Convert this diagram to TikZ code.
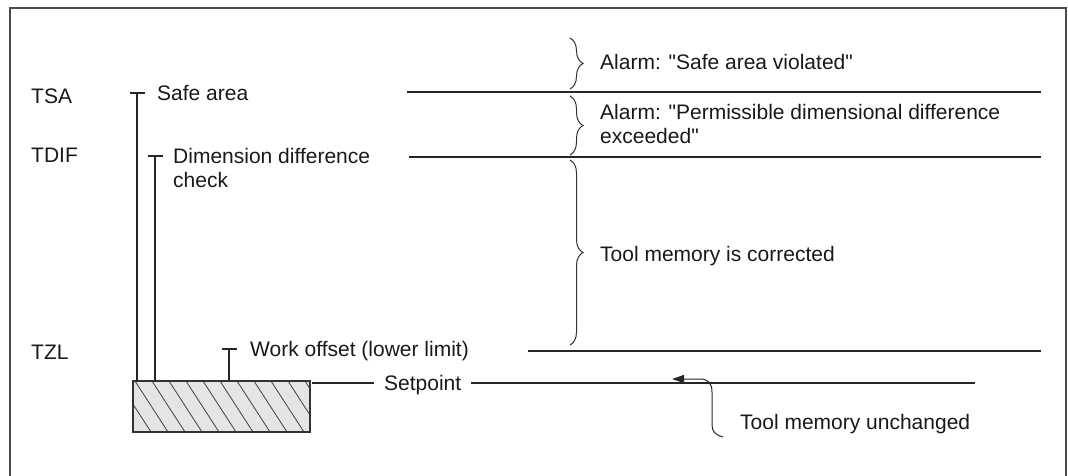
\documentclass[tikz,border=0pt]{standalone}
\usepackage{fontspec}
\setmainfont{Liberation Sans}[Ligatures=TeXOff]
\usetikzlibrary{decorations.pathreplacing,arrows.meta}
\begin{document}
\begin{tikzpicture}[x=1pt,y=-1pt,
  lbl/.style={anchor=base west,inner sep=0pt,font=\fontsize{21}{24.5}\selectfont,text=black!90},
  ln/.style={line width=1.3pt,draw=black!85},
  tick/.style={line width=1.5pt,draw=black!85},
  brc/.style={decorate,decoration={brace,amplitude=13pt},line width=1pt,draw=black!80},
  hatch/.style={line width=0.8pt,draw=black!75},
]
\useasboundingbox (0,0) rectangle (1068,476);
% frame
\draw[line width=2.5pt,draw=black!70] (10,476) -- (10,8) -- (1066,8) -- (1066,476);

% labels (multi-line nodes: base anchor is on the last line)
\node[lbl] (tsa) at (31,104) {TSA};
\node[lbl] (tdif) at (31,163) {TDIF};
\node[lbl] (tzl) at (31,359) {TZL};
\node[lbl] (safe) at (157,101) {Safe area};
\node[lbl,align=left] (dim) at (173,187.5) {Dimension difference\\check};
\node[lbl] (work) at (250,356) {Work offset (lower limit)};
\node[lbl] (setp) at (384,390) {Setpoint};
\node[lbl] (al1) at (600,70) {Alarm: "Safe area violated"};
\node[lbl,align=left] (al2) at (600,143.5) {Alarm: "Permissible dimensional difference\\exceeded"};
\node[lbl] (corr) at (600,261) {Tool memory is corrected};
\node[lbl] (unch) at (740,429) {Tool memory unchanged};

% workpiece box
\node[minimum width=177pt,minimum height=51pt,inner sep=0pt,fill=black!10] (box) at (221.5,406.5) {};
\begin{scope}
  \clip (box.south west) rectangle (box.north east);
  \foreach \x in {84,101,...,320} \draw[hatch] (\x,381) -- ++(33,51);
\end{scope}
\draw[line width=2pt,draw=black!80] (box.south west) rectangle (box.north east);

% T-shaped markers
\coordinate (tsaT) at (137,93);
\coordinate (tdifT) at (155,156);
\coordinate (workT) at (229,349);
\foreach \c in {tsaT,tdifT,workT}{
  \draw[tick] ([xshift=-7pt]\c) -- ([xshift=8pt]\c);
  \draw[ln] (\c) -- (\c |- box.north);
}

% setpoint line
\coordinate (spEnd) at (975,383);
\draw[ln] ([xshift=2pt]box.north east |- spEnd) -- ([xshift=-10pt]setp.west |- spEnd);
\draw[ln] ([xshift=10pt]setp.east |- spEnd) -- (spEnd);

% level lines
\coordinate (tsaL) at (407,92);  \coordinate (tsaR) at (1041,92);
\coordinate (tdifL) at (409,157); \coordinate (tdifR) at (1041,157);
\coordinate (tzlL) at (528,351); \coordinate (tzlR) at (1041,351);
\draw[ln] (tsaL) -- (tsaR);
\draw[ln] (tdifL) -- (tdifR);
\draw[ln] (tzlL) -- (tzlR);

% braces
\coordinate (b1t) at (570,38);  \coordinate (b1b) at (570,89);
\coordinate (b2t) at (570,96);  \coordinate (b2b) at (570,155);
\coordinate (b3t) at (570,160); \coordinate (b3b) at (570,345);
\draw[brc] (b1t) -- (b1b);
\draw[brc] (b2t) -- (b2b);
\draw[brc] (b3t) -- (b3b);

% arrow: tool memory unchanged
\coordinate (uStart) at (723,437);
\coordinate (uTip) at (672,379);
\draw[line width=1pt,draw=black!85,-{Triangle[length=12pt,width=8pt]}]
  (uStart) .. controls (715,435) and (712,431) .. (712,425) -- (712,392)
  .. controls (712,383) and (708,379) .. (700,379) -- (uTip);
\end{tikzpicture}
\end{document}
